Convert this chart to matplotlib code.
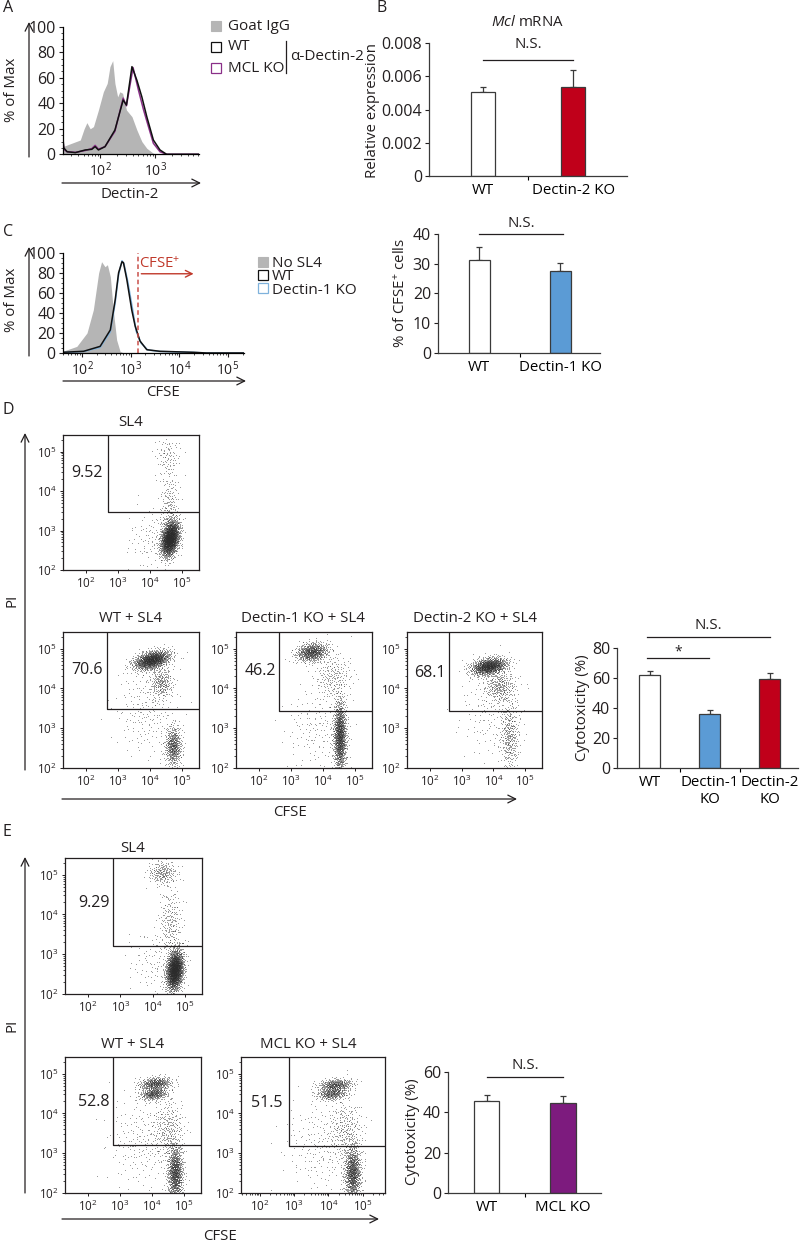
import numpy as np
import matplotlib
matplotlib.use("Agg")
import matplotlib.pyplot as plt
from matplotlib.patches import Rectangle
from matplotlib.ticker import FixedLocator, NullFormatter, MultipleLocator, LogLocator

plt.rcParams['font.family'] = ['Open Sans', 'DejaVu Sans']
plt.rcParams['mathtext.fontset'] = 'custom'
plt.rcParams['mathtext.rm'] = 'Open Sans'
plt.rcParams['mathtext.it'] = 'Open Sans:italic'
plt.rcParams['axes.linewidth'] = 0.9

W, H = 800, 1242
DARK = '#231f20'
FS = 10.8

# ---------------- data ----------------
# (A) Dectin-2 histograms, x in log10 units, y in % of max
a_gray_x = [1.32, 1.48, 1.64, 1.71, 1.76, 1.82, 1.88, 1.97, 2.06, 2.13, 2.18, 2.23, 2.27, 2.32,
            2.36, 2.41, 2.48, 2.58, 2.67, 2.76, 2.85, 2.97, 3.09]
a_gray_y = [6, 8.6, 11.2, 20, 24.8, 20, 21.7, 34.7, 49, 55.6, 68.7, 73.4, 55.6, 45,
            49, 47.8, 34.7, 29.5, 19, 10, 4.7, 0.8, 0]
a_wt_x = [1.32, 1.34, 1.40, 1.55, 1.73, 1.85, 1.91, 1.97, 2.09, 2.27, 2.42, 2.48, 2.58, 2.67,
          2.76, 2.85, 2.97, 3.09, 3.21, 3.8]
a_wt_y = [15, 5, 2, 1.3, 3.4, 3.9, 6, 3.4, 6, 19, 42.5, 38.6, 68.7, 58,
          45, 29.5, 11.2, 3.4, 0, 0]
a_mcl_x = [1.32, 1.34, 1.40, 1.55, 1.73, 1.85, 1.91, 1.97, 2.09, 2.27, 2.42, 2.48, 2.60, 2.70,
           2.79, 2.88, 2.97, 3.09, 3.21, 3.8]
a_mcl_y = [13, 4, 2, 1.5, 3, 4.5, 7, 4, 6, 18, 44, 38, 68, 50,
           35, 21.7, 8.6, 2, 0, 0]

# (B) Mcl mRNA
b_groups = ['WT', 'Dectin-2 KO']
b_values = [0.00505, 0.00535]
b_errors = [0.0003, 0.0010]

# (C) CFSE histograms
c_gray_x = [1.60, 1.89, 2.10, 2.23, 2.34, 2.40, 2.47, 2.52, 2.58, 2.64, 2.71, 2.78, 2.85]
c_gray_y = [1.7, 6.6, 20, 43, 80, 91, 86, 88, 76, 43, 13, 1.7, 0]
c_wt_x = [1.60, 2.03, 2.37, 2.58, 2.68, 2.75, 2.82, 2.85, 2.92, 3.02, 3.09, 3.19, 3.33, 3.60, 4.29, 4.56, 5.33]
c_wt_y = [0.7, 1.7, 6.6, 23, 53, 80, 91, 90, 73, 43, 27, 12, 3.3, 1.7, 0.7, 0, 0]
c_d1_x = [1.60, 2.03, 2.37, 2.58, 2.68, 2.75, 2.82, 2.86, 2.94, 3.04, 3.11, 3.21, 3.35, 3.60, 4.29, 4.56, 5.33]
c_d1_y = [0.5, 1.5, 5.5, 21, 50, 78, 92, 89, 71, 43, 22, 10, 3.0, 1.5, 0.6, 0, 0]
c_gate = 3.14

c_groups = ['WT', 'Dectin-1 KO']
c_values = [31.3, 27.6]
c_errors = [4.3, 2.6]

# (D) cytotoxicity
d_groups = ['WT', 'Dectin-1\nKO', 'Dectin-2\nKO']
d_values = [62.0, 36.0, 59.3]
d_errors = [2.5, 2.7, 4.0]

# (E) cytotoxicity
e_groups = ['WT', 'MCL KO']
e_values = [45.5, 44.5]
e_errors = [3.0, 3.5]

# flow populations: (log CFSE centre, log PI centre, sd x, sd y, corr, events)
d_sl4_pops = [(4.62, 2.80, 0.14, 0.22, 0.3, 2000), (4.60, 3.60, 0.15, 0.50, 0.0, 200),
              (4.55, 4.90, 0.20, 0.25, 0.0, 90), (4.10, 2.80, 0.40, 0.40, 0.0, 120)]
d_wt_pops = [(4.05, 4.72, 0.28, 0.12, 0.4, 1300), (4.35, 4.15, 0.18, 0.20, 0.0, 250),
             (4.72, 2.55, 0.13, 0.25, 0.0, 550), (3.90, 3.50, 0.50, 0.60, 0.0, 220)]
d_d1_pops = [(3.65, 4.92, 0.25, 0.12, 0.2, 700), (4.30, 4.30, 0.30, 0.30, 0.0, 220),
             (4.52, 2.80, 0.10, 0.45, 0.0, 1300), (3.80, 3.00, 0.50, 0.50, 0.0, 150)]
d_d2_pops = [(3.85, 4.56, 0.28, 0.11, 0.3, 1150), (4.20, 4.05, 0.25, 0.20, 0.0, 300),
             (4.50, 2.80, 0.15, 0.45, 0.0, 350), (3.90, 3.40, 0.50, 0.60, 0.0, 150)]
e_sl4_pops = [(4.68, 2.60, 0.13, 0.25, 0.2, 2000), (4.30, 5.05, 0.22, 0.15, 0.0, 220),
              (4.55, 3.80, 0.18, 0.45, 0.0, 220), (4.10, 2.80, 0.45, 0.45, 0.0, 120)]
e_wt_pops = [(4.10, 4.76, 0.25, 0.08, 0.2, 430), (4.05, 4.50, 0.22, 0.08, 0.2, 360),
             (4.72, 2.50, 0.12, 0.35, 0.0, 1000), (4.50, 3.60, 0.25, 0.40, 0.0, 280),
             (3.70, 3.30, 0.55, 0.60, 0.0, 220)]
e_mcl_pops = [(4.20, 4.72, 0.25, 0.08, 0.2, 400), (4.10, 4.50, 0.22, 0.08, 0.2, 320),
              (4.70, 2.50, 0.12, 0.35, 0.0, 1000), (4.50, 3.60, 0.25, 0.40, 0.0, 260),
              (3.80, 3.20, 0.55, 0.60, 0.0, 220)]

# gates (log CFSE, log PI) and percentages
d_gates = [(2.69, 3.47), (2.66, 3.49), (2.62, 3.44), (2.60, 3.44)]
d_pct = ['9.52', '70.6', '46.2', '68.1']
e_gates = [(2.77, 3.20), (2.77, 3.20), (2.85, 3.17)]
e_pct = ['9.29', '52.8', '51.5']

# legends
a_legend = ['Goat IgG', 'WT', 'MCL KO']
c_legend = ['No SL4', 'WT', 'Dectin-1 KO']

# ---------------- helpers ----------------
fig = plt.figure(figsize=(8, 12.42), dpi=100)


def px_axes(l, t, r, b):
    return fig.add_axes([l / W, 1 - b / H, (r - l) / W, (b - t) / H])


def halton(idx, base):
    res = np.zeros(len(idx))
    f = 1.0
    i = idx.copy()
    while np.any(i > 0):
        f /= base
        res += f * (i % base)
        i //= base
    return res


def pop_points(pops, start):
    xs, ys = [], []
    for k, (cx, cy, sx, sy, rho, n) in enumerate(pops):
        idx = np.arange(start + 37 * k, start + 37 * k + n) + 1
        u1 = halton(idx, 2)
        u2 = halton(idx * 7 + 3, 3)
        r = np.sqrt(-2 * np.log(np.clip(u1, 1e-6, 1)))
        z1 = r * np.cos(2 * np.pi * u2)
        z2 = r * np.sin(2 * np.pi * u2)
        xs.append(cx + sx * z1)
        ys.append(cy + sy * (rho * z1 + np.sqrt(1 - rho ** 2) * z2))
    return np.concatenate(xs), np.concatenate(ys)


def sup_labels(exps):
    return [r'$\mathregular{10^{%d}}$' % e for e in exps]


def flow_panel(rect, pops, gate, pct, pct_pos, start, xlim=(1.28, 5.53)):
    ax = px_axes(*rect)
    xs, ys = pop_points(pops, start)
    ax.scatter(10 ** xs, 10 ** ys, s=0.3, c='#2b2b2b', linewidths=0, alpha=0.6)
    ax.set_xscale('log')
    ax.set_yscale('log')
    ax.set_xlim(10 ** xlim[0], 10 ** xlim[1])
    ax.set_ylim(1e2, 10 ** 5.42)
    gx, gy = 10 ** gate[0], 10 ** gate[1]
    ax.plot([gx, gx, 1e7], [1e7, gy, gy], color=DARK, lw=0.9)
    ax.text(pct_pos[0], pct_pos[1], pct, transform=ax.transAxes, fontsize=11.5,
            ha='center', va='center', color=DARK)
    for axis in (ax.xaxis, ax.yaxis):
        axis.set_major_locator(FixedLocator([1e2, 1e3, 1e4, 1e5]))
        axis.set_minor_locator(LogLocator(base=10, subs=np.arange(2, 10)))
        axis.set_minor_formatter(NullFormatter())
    ax.set_xticklabels(sup_labels([2, 3, 4, 5]))
    ax.set_yticklabels(sup_labels([2, 3, 4, 5]))
    ax.tick_params(which='major', length=2.5, width=0.7, labelsize=8.3, pad=2, colors=DARK)
    ax.tick_params(which='minor', length=1.3, width=0.5)
    for s in ax.spines.values():
        s.set_color(DARK)
    return ax


def bar_panel(rect, groups, values, errors, colors, xlim, width, ylim, yticks, ylabels):
    ax = px_axes(*rect)
    pos = np.arange(len(groups))
    ax.bar(pos, values, width=width, color=colors, edgecolor='#3a3a3a', linewidth=0.9, zorder=2)
    ax.errorbar(pos, values, yerr=[np.zeros(len(values)), errors], fmt='none',
                ecolor='#3a3a3a', elinewidth=0.9, capsize=2.5, capthick=0.9, zorder=1)
    ax.set_xlim(*xlim)
    ax.set_ylim(*ylim)
    ax.set_yticks(yticks)
    ax.set_yticklabels(ylabels)
    ax.set_xticks(pos[:-1] + 0.5)
    ax.set_xticklabels([])
    ax.set_xticks(pos, groups, minor=True)
    ax.tick_params(axis='x', which='minor', length=0, pad=5, labelsize=FS)
    ax.tick_params(axis='x', which='major', length=3, width=0.8, direction='out')
    ax.tick_params(axis='y', length=3, width=0.8, labelsize=11.5, pad=2, colors=DARK)
    for s in ('top', 'right'):
        ax.spines[s].set_visible(False)
    for s in ('left', 'bottom'):
        ax.spines[s].set_color('#3a3a3a')
    return ax


def hist_style(ax, xticks_exp, xlim):
    ax.set_xscale('log')
    ax.set_xlim(10 ** xlim[0], 10 ** xlim[1])
    ax.set_ylim(0, 100)
    ax.set_yticks([0, 20, 40, 60, 80, 100])
    ax.yaxis.set_minor_locator(MultipleLocator(5))
    ax.xaxis.set_major_locator(FixedLocator([10.0 ** e for e in xticks_exp]))
    ax.xaxis.set_minor_locator(LogLocator(base=10, subs=np.arange(2, 10)))
    ax.xaxis.set_minor_formatter(NullFormatter())
    ax.set_xticklabels(sup_labels(xticks_exp))
    ax.tick_params(which='major', length=3, width=0.8, labelsize=11.5, pad=2, colors=DARK)
    ax.tick_params(which='minor', length=1.5, width=0.5)
    ax.tick_params(axis='x', labelsize=10)
    for s in ('top', 'right'):
        ax.spines[s].set_visible(False)


# ---------------- panel A ----------------
axA = px_axes(62.7, 26.7, 199, 154.3)
axA.fill_between(10 ** np.array(a_gray_x), a_gray_y, color='#b5b5b5', lw=0)
axA.plot(10 ** np.array(a_mcl_x), a_mcl_y, color='#8a2f88', lw=1.1)
axA.plot(10 ** np.array(a_wt_x), a_wt_y, color='#111111', lw=1.1)
hist_style(axA, [2, 3], (1.32, 3.8))

# ---------------- panel B ----------------
axB = bar_panel((429, 43, 627, 176), b_groups, b_values, b_errors, ['white', '#c0001a'],
                (-0.6, 1.6), 0.27, (0, 0.008), [0, 0.002, 0.004, 0.006, 0.008],
                ['0', '0.002', '0.004', '0.006', '0.008'])
axB.plot([0, 1], [0.00698, 0.00698], color=DARK, lw=0.9, clip_on=False)
axB.text(0.5, 0.0079, 'N.S.', ha='center', va='center', fontsize=FS, color=DARK)

# ---------------- panel C ----------------
axC = px_axes(62.7, 252.7, 244, 353)
axC.fill_between(10 ** np.array(c_gray_x), c_gray_y, color='#b5b5b5', lw=0)
axC.plot(10 ** np.array(c_d1_x), c_d1_y, color='#7fb2dc', lw=1.1)
axC.plot(10 ** np.array(c_wt_x), c_wt_y, color='#111111', lw=1.1)
axC.axvline(10 ** c_gate, color='#c9504a', lw=1.1, ls=(0, (3, 2)))
axC.annotate('', xy=(10 ** 4.35, 79), xytext=(10 ** 3.16, 79),
             arrowprops=dict(arrowstyle='->', color='#c0392b', lw=1.0, mutation_scale=12))
axC.text(10 ** 3.6, 89, 'CFSE$^{+}$', color='#c0392b', fontsize=FS, ha='center', va='center')
hist_style(axC, [2, 3, 4, 5], (1.6, 5.33))

axC2 = bar_panel((438, 234, 600, 353), c_groups, c_values, c_errors, ['white', '#5b9bd5'],
                 (-0.506, 1.49), 0.26, (0, 40), [0, 10, 20, 30, 40],
                 ['0', '10', '20', '30', '40'])
axC2.plot([0, 1.04], [40, 40], color=DARK, lw=0.9, clip_on=False)
axC2.text(0.52, 43.6, 'N.S.', ha='center', va='center', fontsize=FS, color=DARK)

# ---------------- panel D ----------------
flow_panel((63, 435, 199, 570), d_sl4_pops, d_gates[0], d_pct[0], (0.18, 0.72), 11)
flow_panel((63, 632, 199, 768), d_wt_pops, d_gates[1], d_pct[1], (0.18, 0.72), 5011)
flow_panel((236, 632, 372, 768), d_d1_pops, d_gates[2], d_pct[2], (0.18, 0.71), 9011)
flow_panel((407, 632, 542, 768), d_d2_pops, d_gates[3], d_pct[3], (0.17, 0.70), 13011)

axD = bar_panel((617, 648, 798, 768), d_groups, d_values, d_errors,
                ['white', '#5b9bd5', '#c0001a'], (-0.55, 2.47), 0.35, (0, 80),
                [0, 20, 40, 60, 80], ['0', '20', '40', '60', '80'])
axD.plot([-0.05, 2.0], [87.3, 87.3], color=DARK, lw=0.9, clip_on=False)
axD.text(0.97, 94.7, 'N.S.', ha='center', va='center', fontsize=FS, color=DARK)
axD.plot([-0.05, 0.98], [73.3, 73.3], color=DARK, lw=0.9, clip_on=False)
axD.text(0.47, 77.5, '*', ha='center', va='center', fontsize=10, color=DARK)

# ---------------- panel E ----------------
flow_panel((65, 858, 202, 994), e_sl4_pops, e_gates[0], e_pct[0], (0.21, 0.67), 17011)
flow_panel((65, 1057, 201, 1193), e_wt_pops, e_gates[1], e_pct[1], (0.21, 0.67), 21011)
flow_panel((241, 1057, 385, 1193), e_mcl_pops, e_gates[2], e_pct[2], (0.18, 0.66), 25011,
           xlim=(1.45, 5.65))

axE = bar_panel((448, 1072, 601, 1193), e_groups, e_values, e_errors,
                ['white', '#7d1b7e'], (-0.51, 1.5), 0.33, (0, 60),
                [0, 20, 40, 60], ['0', '20', '40', '60'])
axE.plot([0, 1], [57.5, 57.5], color=DARK, lw=0.9, clip_on=False)
axE.text(0.5, 63, 'N.S.', ha='center', va='center', fontsize=FS, color=DARK)

# ---------------- overlay: letters, arrows, labels, legends ----------------
ov = fig.add_axes([0, 0, 1, 1])
ov.set_xlim(0, W)
ov.set_ylim(H, 0)
ov.axis('off')


def arrow(x0, y0, x1, y1):
    ov.annotate('', xy=(x1, y1), xytext=(x0, y0),
                arrowprops=dict(arrowstyle='->', color=DARK, lw=0.9, mutation_scale=14,
                                shrinkA=0, shrinkB=0))


def txt(x, y, s, size=FS, rot=0, ha='center', **kw):
    ov.text(x, y, s, fontsize=size, rotation=rot, ha=ha, va='center', color=DARK, **kw)


for letter, (x, y) in zip('ABCDE', [(3, 8), (376, 8), (3, 232), (3, 410), (3, 832)]):
    txt(x, y, letter, size=11.5, ha='left')

# A
arrow(29, 157, 29, 22)
txt(12, 90, '% of Max', rot=90)
arrow(62, 183, 201, 183)
txt(130, 194, 'Dectin-2')
ov.add_patch(Rectangle((211, 21), 9.5, 9.5, fc='#b5b5b5', ec='#b5b5b5', lw=0.8))
ov.add_patch(Rectangle((211, 42), 9.5, 9.5, fc='white', ec='#111111', lw=0.9))
ov.add_patch(Rectangle((211, 63), 9.5, 9.5, fc='white', ec='#8a2f88', lw=0.9))
for lab, y in zip(a_legend, [26, 47, 68]):
    txt(228, y, lab, ha='left', size=11)
ov.plot([286, 286], [41, 73], color=DARK, lw=0.9)
txt(290, 57, 'α-Dectin-2', ha='left', size=11)

# B
txt(372, 110, 'Relative expression', rot=90)
txt(527, 23, r'$\mathit{Mcl}$ mRNA')

# C
arrow(29, 356, 29, 247)
txt(12, 300, '% of Max', rot=90)
arrow(63, 381, 246, 381)
txt(163, 393, 'CFSE')
ov.add_patch(Rectangle((258, 257), 9.5, 9.5, fc='#b5b5b5', ec='#b5b5b5', lw=0.8))
ov.add_patch(Rectangle((258, 270), 9.5, 9.5, fc='white', ec='#111111', lw=0.9))
ov.add_patch(Rectangle((258, 283), 9.5, 9.5, fc='white', ec='#7fb2dc', lw=0.9))
# the three tight legend rows as one text block
ov.text(272, 277, '\n'.join(c_legend), fontsize=11, ha='left', va='center',
        linespacing=0.9, color=DARK)
txt(401, 293, '% of CFSE$^{+}$ cells', rot=90)

# D
txt(131, 423, 'SL4')
txt(131, 619, 'WT + SL4')
txt(303, 619, 'Dectin-1 KO + SL4')
txt(475, 619, 'Dectin-2 KO + SL4')
arrow(25, 770, 25, 433)
txt(12, 600, 'PI', rot=90)
arrow(62, 799, 517, 799)
txt(290, 813, 'CFSE')
txt(583, 708, 'Cytotoxicity (%)', rot=90)

# E
txt(133, 848, 'SL4')
txt(133, 1045, 'WT + SL4')
txt(308, 1045, 'MCL KO + SL4')
arrow(25, 1193, 25, 857)
txt(12, 1025, 'PI', rot=90)
arrow(62, 1219, 379, 1219)
txt(220, 1236, 'CFSE')
txt(413, 1132, 'Cytotoxicity (%)', rot=90)

fig.savefig('out.png', dpi=100)
